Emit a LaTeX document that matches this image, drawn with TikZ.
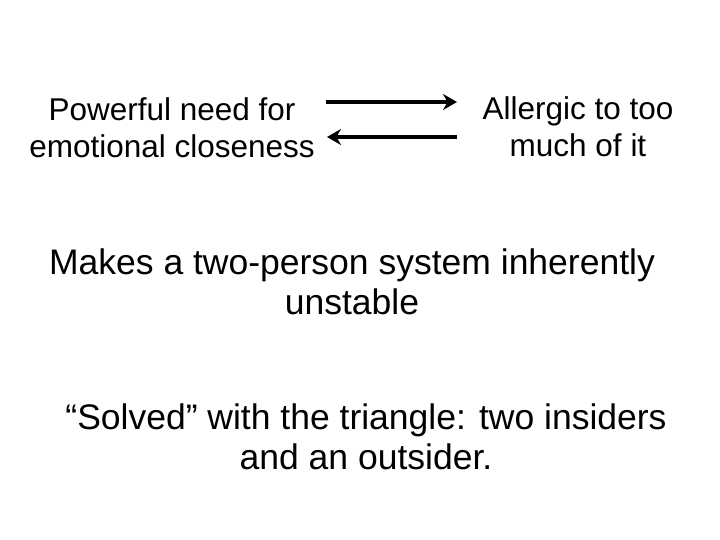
\documentclass[tikz,border=0pt]{standalone}
\usepackage{fontspec}
\setmainfont{Liberation Sans}
\usetikzlibrary{arrows.meta}
\begin{document}
\begin{tikzpicture}[x=1pt,y=-1pt,
  txt/.style={align=center,font=\fontsize{31.5}{37}\selectfont,inner sep=0pt},
  big/.style={align=center,font=\fontsize{35.5}{40}\selectfont,inner sep=0pt},
  arr/.style={line width=4pt,-{Stealth[length=14pt,width=16pt]}}]
\useasboundingbox (0,0) rectangle (720,540);
\node[txt] (a) at (172,128) {Powerful need for\\emotional closeness};
\node[txt] (b) at (578,127) {Allergic to too\\much of it};
\node[big] (c) at (352,282) {Makes a two-person system inherently\\unstable};
\node[big] (d) at (366,437) {“Solved” with the triangle: two insiders\\and an outsider.};
\coordinate (p1) at (326,102); \coordinate (p2) at (457,102);
\coordinate (q1) at (457,137); \coordinate (q2) at (327,137);
\draw[arr] (p1) -- (p2);
\draw[arr] (q1) -- (q2);
\end{tikzpicture}
\end{document}
